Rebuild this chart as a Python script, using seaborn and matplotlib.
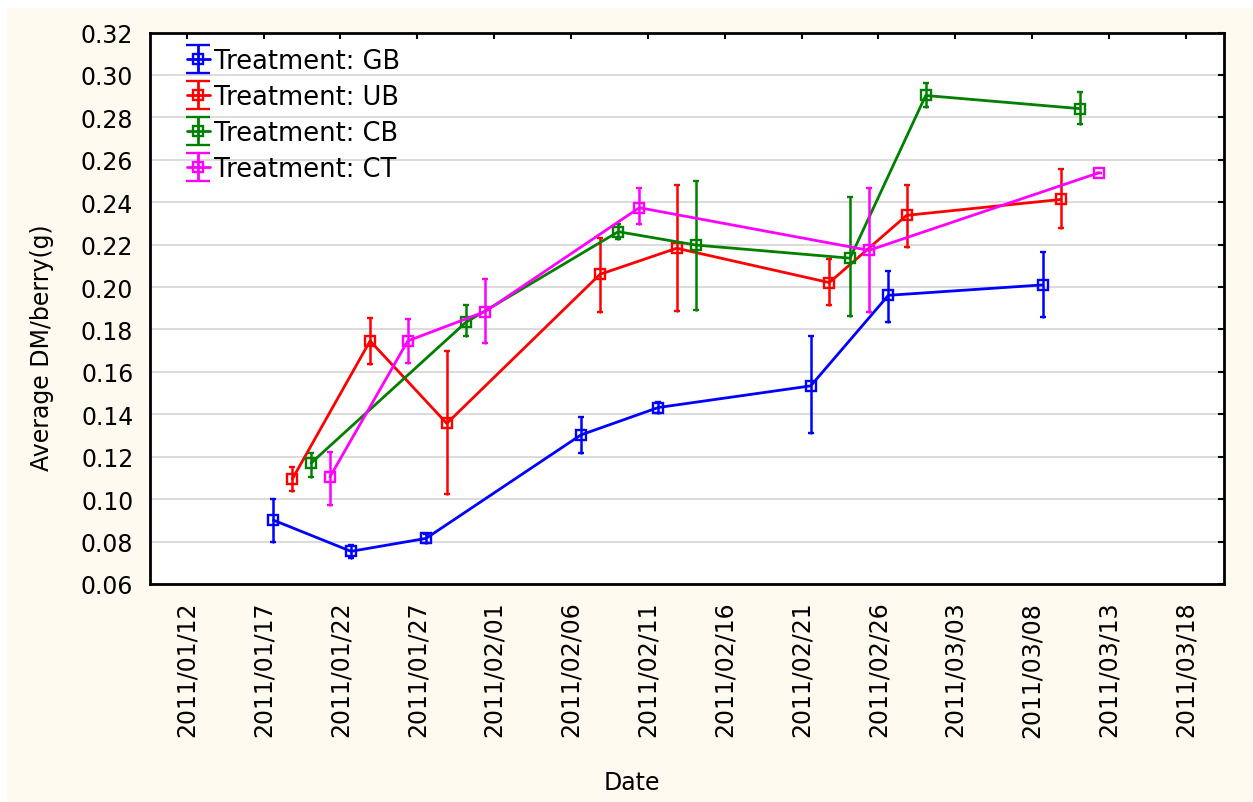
import numpy as np
import pandas as pd
import matplotlib
matplotlib.use("Agg")
import matplotlib.pyplot as plt
import matplotlib.dates as mdates
from matplotlib.patches import Rectangle
from matplotlib.legend_handler import HandlerErrorbar
from matplotlib.container import ErrorbarContainer
import seaborn as sns

# ---- data (days after 2011-01-12, mean, lower and upper error limits) ----
treatments = ["GB", "UB", "CB", "CT"]
colors = ["#0000FF", "#FF0000", "#008000", "#FF00FF"]

gb_day = [5.64, 10.69, 15.57, 25.65, 30.68, 40.60, 45.65, 55.69]
gb_mean = [0.0901, 0.0754, 0.0815, 0.1303, 0.1432, 0.1534, 0.1961, 0.2010]
gb_lo = [0.0798, 0.0724, 0.0793, 0.1217, 0.1404, 0.1310, 0.1835, 0.1858]
gb_hi = [0.1000, 0.0784, 0.0837, 0.1387, 0.1460, 0.1767, 0.2075, 0.2165]

ub_day = [6.87, 11.93, 16.92, 26.89, 31.88, 41.81, 46.84, 56.88]
ub_mean = [0.1095, 0.1746, 0.1357, 0.2060, 0.2183, 0.2021, 0.2338, 0.2413]
ub_lo = [0.1037, 0.1636, 0.1024, 0.1880, 0.1887, 0.1914, 0.2191, 0.2280]
ub_hi = [0.1150, 0.1853, 0.1699, 0.2233, 0.2479, 0.2131, 0.2479, 0.2555]

cb_day = [8.09, 18.15, 28.08, 33.12, 43.16, 48.08, 58.12]
cb_mean = [0.1170, 0.1833, 0.2261, 0.2198, 0.2136, 0.2903, 0.2841]
cb_lo = [0.1105, 0.1767, 0.2226, 0.1892, 0.1864, 0.2850, 0.2770]
cb_hi = [0.1217, 0.1914, 0.2296, 0.2500, 0.2424, 0.2963, 0.2920]

ct_day = [9.32, 14.38, 19.41, 29.45, 44.39, 59.36]
ct_mean = [0.1105, 0.1746, 0.1884, 0.2374, 0.2173, 0.2539]
ct_lo = [0.0973, 0.1644, 0.1738, 0.2296, 0.1883, 0.2539]
ct_hi = [0.1223, 0.1848, 0.2037, 0.2469, 0.2465, 0.2539]

y_ticks = [0.06, 0.08, 0.10, 0.12, 0.14, 0.16, 0.18, 0.20, 0.22, 0.24, 0.26, 0.28, 0.30, 0.32]
start_date = "2011-01-12"

series = [
    (gb_day, gb_mean, gb_lo, gb_hi),
    (ub_day, ub_mean, ub_lo, ub_hi),
    (cb_day, cb_mean, cb_lo, cb_hi),
    (ct_day, ct_mean, ct_lo, ct_hi),
]

base = pd.Timestamp(start_date)


def to_num(days):
    return mdates.date2num((base + pd.to_timedelta(np.asarray(days), unit="D")).to_pydatetime())


# ---- figure ----
sns.set_theme(style="white")
plt.rcParams["font.family"] = ["DejaVu Sans"]
plt.rcParams["text.color"] = "black"
FS = 17
LFS = 18.5

W, H = 1253, 803
fig = plt.figure(figsize=(W / 100, H / 100), dpi=100, facecolor="white")
fig.add_artist(Rectangle((7 / W, 0), 1 - 7 / W, 1 - 9 / H, transform=fig.transFigure,
                         facecolor="#FFFAF0", edgecolor="none", zorder=-10))
ax = fig.add_axes([150 / W, 1 - 585 / H, (1224 - 150) / W, (585 - 33.5) / H])
ax.set_facecolor("white")

x0 = mdates.date2num(base.to_pydatetime())

handles = []
for name, col, (d, m, lo, hi) in zip(treatments, colors, series):
    xs = to_num(d)
    df = pd.DataFrame({
        "x": np.concatenate([xs, xs, xs]),
        "v": np.concatenate([lo, m, hi]),
    })
    sns.lineplot(data=df, x="x", y="v", ax=ax, color=col, estimator="median",
                 errorbar=("pi", 100), err_style="bars", marker="s", markersize=7.8,
                 markerfacecolor="none", markeredgecolor=col, markeredgewidth=1.7,
                 linewidth=2.0, legend=False,
                 err_kws={"capsize": 2.5, "elinewidth": 1.8, "capthick": 1.7})
    # legend-only proxy, placed outside the visible x range
    h = ax.errorbar([x0 - 100], [0.2], yerr=[[0.01], [0.01]], fmt="-s", color=col,
                    markersize=7.5, markerfacecolor="none", markeredgewidth=1.7,
                    linewidth=2.0, elinewidth=2.0, capsize=8.5, capthick=2.0,
                    label=f"Treatment: {name}")
    handles.append(h)

ax.legend(handles=handles, loc="upper left", bbox_to_anchor=(0.0345, 0.972),
          frameon=False, fontsize=LFS, handlelength=0.88, handletextpad=0.16,
          labelspacing=0.39, borderpad=0, borderaxespad=0, labelcolor="black",
          handler_map={ErrorbarContainer: HandlerErrorbar(xerr_size=0.5, yerr_size=0.56)})

# axes limits / ticks
ax.set_xlim(x0 - 2.39, x0 + 67.49)
ax.set_ylim(0.06, 0.32)
ax.set_yticks(y_ticks)
ax.yaxis.set_major_formatter(matplotlib.ticker.FormatStrFormatter("%.2f"))
ax.set_xticks([x0 + 5 * i for i in range(14)])
ax.xaxis.set_major_formatter(mdates.DateFormatter("%Y/%m/%d"))
ax.tick_params(axis="both", which="major", direction="in", length=4, width=1.5,
               top=True, right=True, labelsize=FS, colors="black", pad=12)
ax.tick_params(axis="x", labelrotation=90)

ax.grid(axis="y", color="#D9D9D9", linewidth=1.3)
ax.grid(axis="x", visible=False)
ax.set_axisbelow(True)
for s in ax.spines.values():
    s.set_color("black")
    s.set_linewidth(2)
    s.set_visible(True)

ax.set_xlabel("")
ax.set_ylabel("")
fig.text(42 / W, 1 - 348 / H, "Average DM/berry(g)", rotation=90, ha="center", va="center",
         fontsize=FS, color="black")
fig.text(632 / W, 1 - 783 / H, "Date", ha="center", va="center", fontsize=FS, color="black")

fig.savefig("out.png", dpi=100, facecolor="white")
